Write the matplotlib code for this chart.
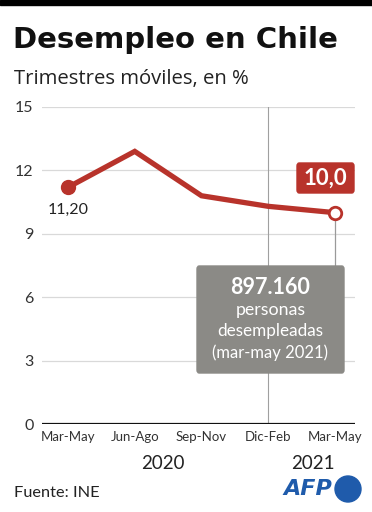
import matplotlib
matplotlib.use("Agg")
import matplotlib.pyplot as plt
from matplotlib.patches import Rectangle, FancyBboxPatch, Ellipse

plt.rcParams['font.family'] = ['Lato', 'DejaVu Sans']

categories = ["Mar-May", "Jun-Ago", "Sep-Nov", "Dic-Feb", "Mar-May"]
values = [11.2, 12.9, 10.8, 10.3, 10.0]
yticks = [0, 3, 6, 9, 12, 15]
years = ["2020", "2021"]

RED = "#b8332b"
GREY_BOX = "#8b8a86"

W, H = 372, 512
fig = plt.figure(figsize=(W / 100, H / 100), dpi=100)

def fx(px):
    return px / W

def fy(py):
    return 1 - py / H

# top black bar
fig.patches.append(Rectangle((0, fy(5)), 1, 5 / H, transform=fig.transFigure,
                             color="black", zorder=0))

fig.text(fx(13), fy(48), "Desempleo en Chile", fontsize=21, fontweight="bold",
         family=["DejaVu Sans"],
         color="#111111", ha="left", va="baseline")
fig.text(fx(14), fy(84), "Trimestres móviles, en %", fontsize=14.6,
         family=["Open Sans", "DejaVu Sans"],
         color="#222222", ha="left", va="baseline")

ax = fig.add_axes([fx(42), fy(424), fx(355) - fx(42), fy(107) - fy(424)])
ax.set_ylim(0, 15)
xpad_l = (68 - 42) / 66.75
xpad_r = (355 - 335) / 66.75
ax.set_xlim(-xpad_l, 4 + xpad_r)

for s in ax.spines.values():
    s.set_visible(False)
ax.set_yticks(yticks)
ax.set_yticklabels([str(t) for t in yticks], fontsize=11.5, color="#333333")
ax.tick_params(axis="y", length=0, pad=6)
for t in yticks[1:]:
    ax.axhline(t, color="#d9d9d9", lw=0.9, zorder=1)
ax.axhline(0, color="#111111", lw=1.6, zorder=3)

ax.set_xticks(range(len(categories)))
ax.set_xticklabels(categories, fontsize=9.5, color="#333333")
ax.tick_params(axis="x", length=0, pad=5)

# year separator
ax.axvline(3, color="#a0a0a0", lw=0.8, zorder=1)

x = list(range(len(values)))
ax.plot(x, values, color=RED, lw=3.8, solid_joinstyle="miter", zorder=4)
ax.plot(x[0], values[0], "o", ms=10, color=RED, zorder=5)
ax.plot(x[-1], values[-1], "o", ms=9, mfc="white", mec=RED, mew=2, zorder=6)

ax.text(x[0], values[0] - 0.75, "11,20", fontsize=11.5, color="#222222",
        ha="center", va="top", zorder=6)

# connector from last point to grey box
ax.plot([x[-1], x[-1]], [values[-1] - 0.4, 7.5], color="#9a9a9a", lw=0.9, zorder=2)

# year labels
fig.text(fx(163), fy(469), years[0], fontsize=13.5, color="#222222", ha="center", va="baseline")
fig.text(fx(313), fy(469), years[1], fontsize=13.5, color="#222222", ha="center", va="baseline")

# red value label box
fig.patches.append(FancyBboxPatch((fx(297), fy(193)), fx(354) - fx(297), (193 - 163) / H,
                                  boxstyle="round,pad=0,rounding_size=0.006",
                                  transform=fig.transFigure, color=RED, zorder=10))
fig.text(fx(325.5), fy(178), "10,0", fontsize=16, fontweight="bold", color="white",
         ha="center", va="center", zorder=11)

# grey info box
fig.patches.append(FancyBboxPatch((fx(197), fy(373)), fx(344) - fx(197), (373 - 266) / H,
                                  boxstyle="round,pad=0,rounding_size=0.006",
                                  transform=fig.transFigure, color=GREY_BOX, zorder=10))
fig.text(fx(270.5), fy(287), "897.160", fontsize=15.5, fontweight="bold", color="white",
         ha="center", va="center", zorder=11)
fig.text(fx(270.5), fy(310), "personas", fontsize=12.8, color="white",
         ha="center", va="center", zorder=11)
fig.text(fx(270.5), fy(331), "desempleadas", fontsize=12.3, color="white",
         ha="center", va="center", zorder=11)
fig.text(fx(270.5), fy(353), "(mar-may 2021)", fontsize=12, color="white",
         ha="center", va="center", zorder=11)

# footer
fig.text(fx(14), fy(497), "Fuente: INE", fontsize=11.8, color="#222222",
         ha="left", va="baseline")

AFP_BLUE = "#1f5bab"
fig.text(fx(308), fy(489), "AFP", fontsize=16, fontweight="bold", style="italic",
         family=["DejaVu Sans"],
         color=AFP_BLUE, ha="center", va="center")
fig.patches.append(Ellipse((fx(348), fy(489)), 26 / W, 26 / H, transform=fig.transFigure,
                           color=AFP_BLUE))

fig.savefig("out.png", dpi=100)
